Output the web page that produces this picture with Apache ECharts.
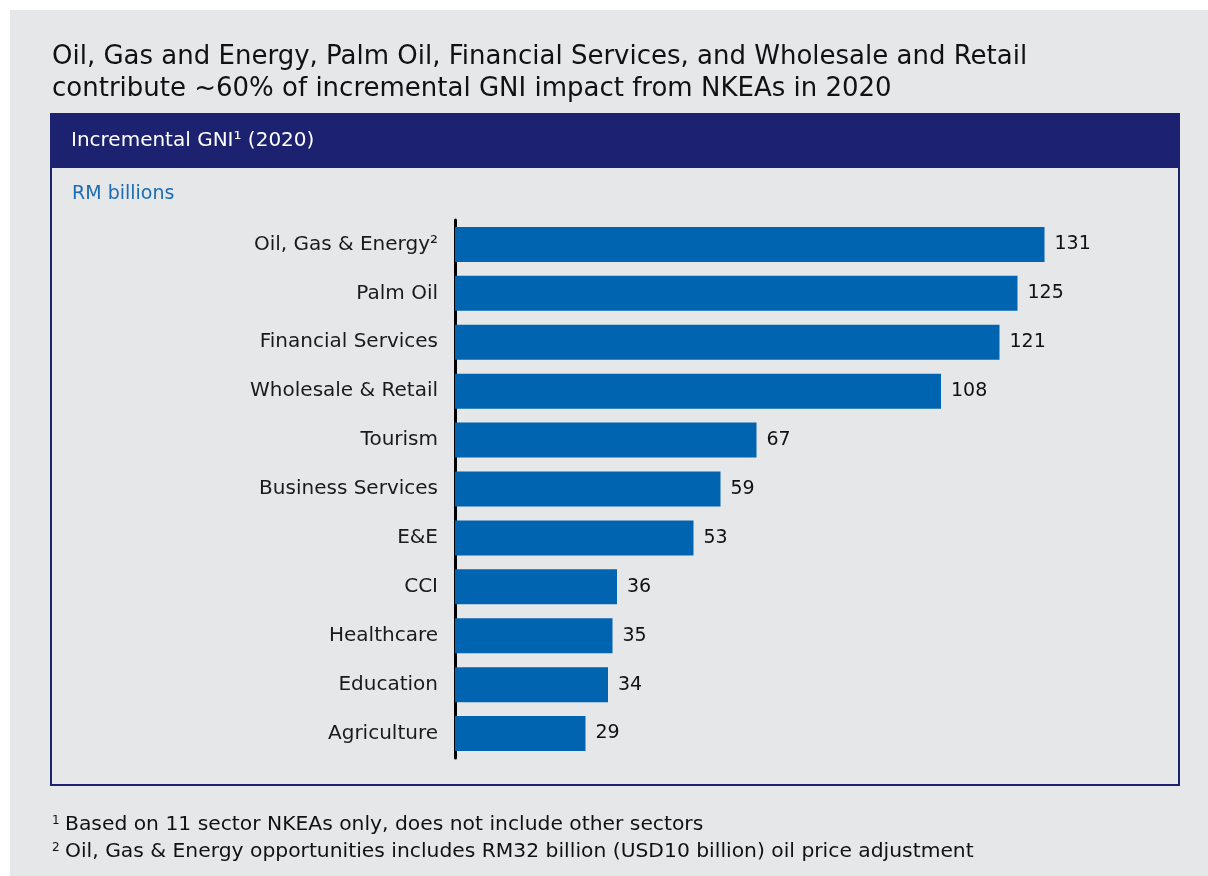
<!DOCTYPE html>
<html>
<head>
<meta charset="utf-8">
<script src="https://cdn.jsdelivr.net/npm/echarts@6/dist/echarts.min.js"></script>
<style>
  html, body { margin: 0; padding: 0; background: #ffffff; }
  #chart { width: 1208px; height: 876px; }
</style>
</head>
<body>
<div id="chart"></div>
<script>
// Sector NKEAs and their incremental GNI in 2020 (RM billions)
const sectors = [
  'Oil, Gas & Energy²', 'Palm Oil', 'Financial Services', 'Wholesale & Retail',
  'Tourism', 'Business Services', 'E&E', 'CCI', 'Healthcare', 'Education', 'Agriculture'
];
const gniValues = [131, 125, 121, 108, 67, 59, 53, 36, 35, 34, 29];

const titleLines = [
  'Oil, Gas and Energy, Palm Oil, Financial Services, and Wholesale and Retail',
  'contribute ~60% of incremental GNI impact from NKEAs in 2020'
];
const panelHeading = 'Incremental GNI¹ (2020)';
const unitLabel = 'RM billions';
const footnotes = [
  ['1', 'Based on 11 sector NKEAs only, does not include other sectors'],
  ['2', 'Oil, Gas & Energy opportunities includes RM32 billion (USD10 billion) oil price adjustment']
];

const FONT = '"DejaVu Sans", sans-serif';
const NAVY = '#1d2270';
const BAR = '#0064b1';

const chart = echarts.init(document.getElementById('chart'), null, { renderer: 'canvas' });

chart.setOption({
  backgroundColor: '#ffffff',
  animation: false,
  textStyle: { fontFamily: FONT },
  graphic: [
    // page panel
    { type: 'rect', z: -10, shape: { x: 10, y: 10, width: 1198, height: 866 }, style: { fill: '#e6e7e9' } },
    // title
    { type: 'text', left: 52, top: 41, style: { text: titleLines.join('\n'), font: '26px ' + FONT, fill: '#111111', lineHeight: 32 } },
    // framed box
    { type: 'rect', z: -5, shape: { x: 51, y: 114, width: 1128, height: 671 }, style: { fill: 'none', stroke: NAVY, lineWidth: 2 } },
    { type: 'rect', z: -4, shape: { x: 50, y: 114, width: 1130, height: 54 }, style: { fill: NAVY } },
    { type: 'text', left: 71, top: 131, style: { text: panelHeading, font: '20px ' + FONT, fill: '#ffffff' } },
    { type: 'text', left: 72, top: 185, style: { text: unitLabel, font: '19px ' + FONT, fill: '#1a6db5' } },
    // footnotes
    { type: 'text', left: 52, top: 815, style: { text: footnotes[0][0], font: '12px ' + FONT, fill: '#111111' } },
    { type: 'text', left: 65, top: 815, style: { text: footnotes[0][1], font: '20.3px ' + FONT, fill: '#111111' } },
    { type: 'text', left: 52, top: 842, style: { text: footnotes[1][0], font: '12px ' + FONT, fill: '#111111' } },
    { type: 'text', left: 65, top: 842, style: { text: footnotes[1][1], font: '20.3px ' + FONT, fill: '#111111' } }
  ],
  grid: { left: 455, top: 220, width: 675, height: 538, containLabel: false },
  xAxis: {
    type: 'value', min: 0, max: 150,
    show: false
  },
  yAxis: {
    type: 'category',
    data: sectors,
    inverse: true,
    axisLine: { show: true, lineStyle: { color: '#000000', width: 3 } },
    axisTick: { show: false },
    axisLabel: { margin: 17, fontSize: 20, color: '#1a1a1a', fontFamily: FONT }
  },
  series: [{
    type: 'bar',
    data: gniValues,
    barWidth: 35,
    itemStyle: { color: BAR },
    label: {
      show: true, position: 'right', distance: 10,
      fontSize: 19, color: '#111111', fontFamily: FONT
    }
  }]
});
</script>
</body>
</html>
